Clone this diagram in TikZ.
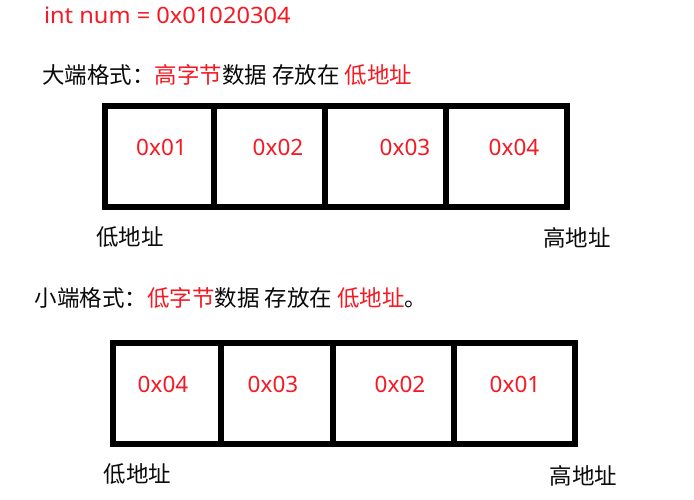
\documentclass[tikz,border=0pt]{standalone}
\usepackage{fontspec}
\setmainfont{Noto Sans}
\newfontfamily\cjk{Noto Sans CJK SC}
\definecolor{hred}{RGB}{245,25,35}
\definecolor{ink}{RGB}{10,10,10}
\begin{document}
\begin{tikzpicture}[x=1pt,y=-1pt,
  txt/.style={inner sep=0pt,outer sep=0pt,anchor=base,font=\fontsize{22.5}{27}\selectfont},
  lefttxt/.style={txt,anchor=base west},
  cjktxt/.style={txt,font=\fontsize{22.5}{27}\selectfont\cjk,text=ink},
  val/.style={txt,text=hred},
  memline/.style={line width=6pt,line join=miter,draw=black}]
\useasboundingbox[fill=white] (0,0) rectangle (694,499);

% title
\node[lefttxt,text=hred,xscale=1.05] (title) at (44,23.5) {int num = 0x01020304};

% big endian
\node[cjktxt,anchor=base west] (big) at (42,83.5) {大端格式：\textcolor{hred}{高字节}数据 存放在 \textcolor{hred}{低地址}};
\draw[memline] (105,105.5) rectangle (567,207);
\draw[memline] (214,105.5) -- (214,207);
\draw[memline] (325,105.5) -- (325,207);
\draw[memline] (446,105.5) -- (446,207);
\node[val] (b1) at (161.5,155.5) {0x01};
\node[val] (b2) at (278,155.5) {0x02};
\node[val] (b3) at (405,155.5) {0x03};
\node[val] (b4) at (514,155.5) {0x04};
\node[cjktxt] (blow) at (130,245.5) {低地址};
\node[cjktxt] (bhigh) at (577,246.5) {高地址};

% little endian
\node[cjktxt,anchor=base west] (little) at (34.5,306) {小端格式：\textcolor{hred}{低字节}数据 存放在 \textcolor{hred}{低地址}。};
\draw[memline] (113,343) rectangle (575,444);
\draw[memline] (221,343) -- (221,444);
\draw[memline] (333,343) -- (333,444);
\draw[memline] (453.5,343) -- (453.5,444);
\node[val] (l1) at (163,392) {0x04};
\node[val] (l2) at (273,392) {0x03};
\node[val] (l3) at (400,392) {0x02};
\node[val] (l4) at (515,392) {0x01};
\node[cjktxt] (llow) at (137.5,482.5) {低地址};
\node[cjktxt] (lhigh) at (583.5,484.5) {高地址};
\end{tikzpicture}
\end{document}
